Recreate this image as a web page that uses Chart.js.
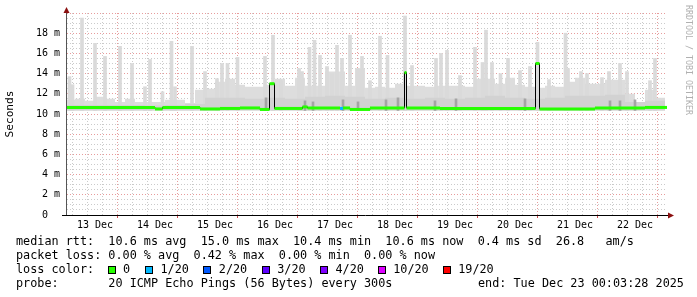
<!DOCTYPE html>
<html>
<head>
<meta charset="utf-8">
<script src="https://cdn.jsdelivr.net/npm/chart.js@4.4.1/dist/chart.umd.min.js"></script>
<style>
  html, body { margin: 0; padding: 0; background: #fff; }
  #wrap { position: relative; width: 697px; height: 297px; overflow: hidden; }
  #c { position: absolute; left: 0; top: 0; }
  .t { position: absolute; font-family: "DejaVu Sans Mono", monospace; font-size: 11.8px; line-height: 14px; white-space: pre; color: #000; }
  .box { position: absolute; top: 266px; width: 6px; height: 6px; border: 1px solid #000; }
  #credit { position: absolute; left: 684px; top: 5px; writing-mode: vertical-rl; font-family: "DejaVu Sans Mono", monospace; font-size: 8.3px; color: #b0b0b0; white-space: pre; }
</style>
</head>
<body>
<div id="wrap">
  <canvas id="c" width="697" height="297"></canvas>
  <div id="credit">RRDTOOL / TOBI OETIKER</div>
  <div class="t" style="left:16px;top:234px">median rtt:  10.6 ms avg  15.0 ms max  10.4 ms min  10.6 ms now  0.4 ms sd  26.8   am/s</div>
  <div class="t" style="left:16px;top:248px">packet loss: 0.00 % avg  0.42 % max  0.00 % min  0.00 % now</div>
  <div class="t" style="left:16px;top:262px">loss color:</div>
  <div id="losses"></div>
  <div class="t" style="left:16px;top:276px">probe:       20 ICMP Echo Pings (56 Bytes) every 300s</div>
  <div class="t" style="left:478px;top:276px">end: Tue Dec 23 00:03:28 2025</div>
</div>
<script>
// hours since 13 Dec 00:00
const dayLabels = ['13 Dec', '14 Dec', '15 Dec', '16 Dec', '17 Dec', '18 Dec', '19 Dec', '20 Dec', '21 Dec', '22 Dec'];
const lossLabels = ['0', '1/20', '2/20', '3/20', '4/20', '10/20', '19/20'];
const lossColors = ['#26ff00', '#00b8ff', '#0059ff', '#5e00ff', '#7e00ff', '#dd00ff', '#ff0000'];

// smoke band top, one value per 4 hours (ms)
const smokeTop = [11.4, 11.5, 11.3, 11.7, 11.5, 11.2, 11.5, 11.2, 11.2, 11.2,
  11.4, 11.4, 11.1, 12.4, 12.5, 13.2, 13.5, 12.9, 12.7, 12.7,
  12.9, 13.5, 12.8, 13.6, 12.8, 12.8, 14.2, 14.2, 12.8, 14.5,
  12.6, 12.7, 12.6, 13.0, 12.8, 12.8, 12.7, 12.8, 12.8, 12.8,
  12.7, 13.5, 13.5, 13.0, 13.6, 12.9, 12.7, 12.6, 12.8, 12.7,
  13.2, 13.6, 13.0, 13.0, 13.4, 13.4, 12.0, 11.2, 12.4, 11.6];
// denser smoke near the median, one value per 8 hours
const smokeMid = [10.9, 10.9, 10.9, 10.9, 10.85, 10.9, 11.0, 11.6, 11.6, 11.5,
  11.6, 11.5, 11.7, 11.8, 11.7, 11.5, 11.6, 11.5, 11.6, 11.5,
  11.6, 11.8, 11.6, 11.5, 11.6, 11.8, 11.8, 11.9, 11.2, 11.3];
const spikeHour = [1.8, 3.0, 6.8, 12.0, 16.0, 22.0, 26.8, 32.0, 34.0, 39.0,
  42.6, 44.0, 50.8, 56.0, 60.8, 62.8, 65.0, 69.0, 80.0, 83.2,
  86.4, 93.6, 94.8, 97.8, 99.8, 102.0, 104.8, 106.8, 108.8, 110.8,
  114.0, 117.2, 118.8, 122.0, 126.0, 129.0, 136.0, 138.8, 148.4, 150.4,
  152.8, 158.0, 164.0, 167.0, 168.4, 170.8, 174.2, 177.2, 182.0, 186.0,
  189.0, 193.6, 200.2, 201.2, 206.4, 208.8, 214.8, 217.6, 222.0, 224.8,
  234.0, 236.0];
const spikeTop = [13.7, 12.9, 19.5, 17.0, 15.7, 16.7, 15.0, 12.7, 15.4, 12.2,
  17.2, 12.7, 16.7, 14.2, 13.5, 15.0, 15.0, 15.6, 15.7, 17.8,
  13.3, 14.5, 14.2, 16.6, 17.3, 15.8, 14.7, 14.0, 16.8, 15.5,
  17.8, 14.5, 15.7, 13.3, 17.7, 15.8, 19.7, 14.8, 15.5, 16.0,
  16.3, 13.8, 16.6, 15.1, 18.3, 15.1, 14.0, 15.5, 14.3, 14.7,
  17.1, 13.4, 18.0, 14.5, 14.2, 14.0, 13.6, 14.2, 15.0, 14.2,
  13.3, 15.5];
const darkHour = [80.4, 96.0, 99.2, 111.2, 117.2, 128.4, 133.2, 148.0, 156.4, 184.0, 218.0, 222.0, 228.0];
const darkTop = [11.6, 11.3, 11.2, 11.4, 11.2, 11.4, 11.6, 11.3, 11.5, 11.5, 11.3, 11.3, 11.4];
// median rtt: start hour of each step, value (ms), lost pings (index into lossColors)
const medianStart = [0, 36, 39, 54, 62, 70, 78, 81.8, 83.8, 95, 97, 110, 111.2, 114, 122, 135.8, 136.6, 150, 170, 188.2, 189.8, 212, 232];
const medianValue = [10.65, 10.5, 10.65, 10.5, 10.55, 10.6, 10.45, 13.0, 10.55, 10.7, 10.6, 10.55, 10.6, 10.45, 10.6, 14.1, 10.6, 10.55, 10.55, 15.0, 10.5, 10.6, 10.65];
const medianLoss = [0, 0, 0, 0, 0, 0, 0, 0, 0, 0, 0, 1, 0, 0, 0, 0, 0, 0, 0, 0, 0, 0, 0];

const X_MIN = 0.8, X_MAX = 240.8, SMOKE_FLOOR = 10.35;

const steps = (vals, width) => vals.map((v, i) => ({x: i * width, y: v}))
  .concat([{x: vals.length * width, y: vals[vals.length - 1]}]);

const medianLine = medianStart.map((t, i) => ({x: t, y: medianValue[i]}))
  .concat([{x: X_MAX, y: medianValue[medianValue.length - 1]}]);
const medianPieces = [];
medianStart.forEach((t, i) => {
  const end = i + 1 < medianStart.length ? medianStart[i + 1] : X_MAX;
  medianPieces.push({x: t, y: medianValue[i]}, {x: end, y: medianValue[i]}, {x: end, y: null});
});

// loss colour legend
const losses = document.getElementById('losses');
const boxLeft = [107.5, 145, 203.3, 261.7, 320, 377.7, 442.7];
lossLabels.forEach((lab, i) => {
  const b = document.createElement('div');
  b.className = 'box';
  b.style.left = boxLeft[i] + 'px';
  b.style.background = lossColors[i];
  losses.appendChild(b);
  const t = document.createElement('div');
  t.className = 't';
  t.style.left = (boxLeft[i] + 15.5) + 'px';
  t.style.top = '262px';
  t.textContent = lab;
  losses.appendChild(t);
});

const axes = {
  id: 'axes',
  afterDatasetsDraw(chart) {
    const ctx = chart.ctx, a = chart.chartArea;
    ctx.save();
    ctx.lineWidth = 1;
    ctx.strokeStyle = '#555';
    ctx.beginPath(); ctx.moveTo(a.left - 0.5, a.bottom); ctx.lineTo(a.left - 0.5, a.top - 3); ctx.stroke();
    ctx.strokeStyle = '#000';
    ctx.beginPath(); ctx.moveTo(a.left - 5, a.bottom + 0.5); ctx.lineTo(a.right + 2, a.bottom + 0.5); ctx.stroke();
    ctx.fillStyle = '#8b1010';
    ctx.beginPath(); ctx.moveTo(a.left - 3.5, a.top); ctx.lineTo(a.left + 2.5, a.top); ctx.lineTo(a.left - 0.5, a.top - 6); ctx.fill();
    ctx.beginPath(); ctx.moveTo(a.right + 1, a.bottom - 2.5); ctx.lineTo(a.right + 1, a.bottom + 3.5); ctx.lineTo(a.right + 7, a.bottom + 0.5); ctx.fill();
    ctx.restore();
  }
};

const RED = 'rgba(215,90,90,0.6)', GREY = 'rgba(160,160,160,0.55)';

new Chart(document.getElementById('c'), {
  type: 'line',
  data: {
    datasets: [
      { data: medianPieces, borderColor: lossColors[0], borderWidth: 3, borderCapStyle: 'butt',
        segment: { borderColor: c => lossColors[medianLoss[Math.floor(c.p0DataIndex / 3)]] },
        pointRadius: 0, spanGaps: false, fill: false, order: 0 },
      { data: medianLine, stepped: 'before', borderColor: '#000', borderWidth: 1, pointRadius: 0, fill: false, order: 1 },
      { type: 'bar', data: darkHour.map((h, i) => ({x: h, y: [SMOKE_FLOOR, darkTop[i]]})),
        backgroundColor: '#a4a4a4', barThickness: 2, grouped: false, order: 2 },
      { data: steps(smokeMid, 8), stepped: 'before', borderColor: 'transparent', borderWidth: 0,
        backgroundColor: '#d2d2d2', fill: {value: SMOKE_FLOOR}, pointRadius: 0, order: 3 },
      { type: 'bar', data: spikeHour.map((h, i) => ({x: h, y: [SMOKE_FLOOR, spikeTop[i]]})),
        backgroundColor: '#dadada', barThickness: 3, grouped: false, order: 4 },
      { data: steps(smokeTop, 4), stepped: 'before', borderColor: 'transparent', borderWidth: 0,
        backgroundColor: '#dddddd', fill: {value: SMOKE_FLOOR}, pointRadius: 0, order: 5 }
    ]
  },
  options: {
    responsive: false,
    animation: false,
    devicePixelRatio: 1,
    layout: { padding: { top: 12, right: 30, left: 0, bottom: 0 } },
    plugins: { legend: { display: false }, tooltip: { enabled: false } },
    scales: {
      x: {
        type: 'linear', min: X_MIN, max: X_MAX, offset: false,
        afterFit: s => { s.height = 82; },
        afterBuildTicks: s => {
          const t = [];
          for (let h = 6; h <= 240; h += 6) t.push({value: h});
          s.ticks = t;
        },
        border: { display: false, dash: [1, 2] },
        grid: {
          color: c => c.tick && c.tick.value % 24 === 0 ? RED : GREY,
          tickColor: c => c.tick && c.tick.value % 24 === 0 ? 'rgba(200,60,60,0.9)' : 'transparent',
          tickLength: 3
        },
        ticks: {
          autoSkip: false, maxRotation: 0, padding: 1, color: '#000',
          font: { family: 'DejaVu Sans Mono', size: 10 },
          callback: v => v % 24 === 12 ? dayLabels[(v - 12) / 24] : ''
        }
      },
      y: {
        min: 0, max: 20,
        afterFit: s => { s.width = 67; },
        border: { display: false, dash: [1, 2] },
        grid: { color: c => c.tick && c.tick.value % 2 === 0 ? RED : GREY, drawTicks: false },
        ticks: {
          stepSize: 0.5, autoSkip: false, padding: 7, color: '#000',
          font: { family: 'DejaVu Sans Mono', size: 10 },
          callback: v => (v % 2 !== 0 || v === 20) ? '' : (v === 0 ? '0  ' : v + ' m')
        },
        title: { display: true, text: 'Seconds', color: '#000', padding: 3,
          font: { family: 'DejaVu Sans Mono', size: 11.2 } }
      }
    }
  },
  plugins: [axes]
});
</script>
</body>
</html>
